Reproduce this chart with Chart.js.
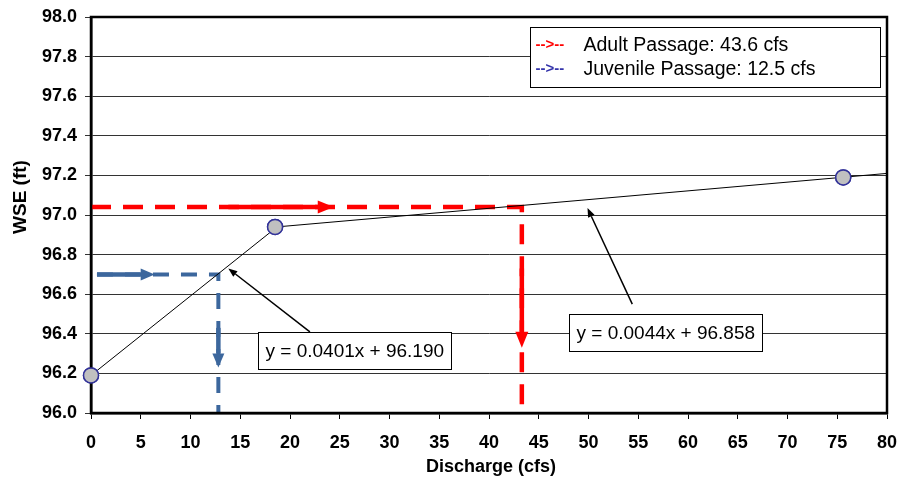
<!DOCTYPE html>
<html>
<head>
<meta charset="utf-8">
<script src="https://cdn.jsdelivr.net/npm/chart.js@4/dist/chart.umd.min.js"></script>
<style>
html,body{margin:0;padding:0;background:#fff;}
#wrap{width:900px;height:485px;position:relative;}
</style>
</head>
<body>
<div id="wrap"><canvas id="c" width="900" height="485"></canvas></div>
<script>
// ---- data ----
const obsQ = [0, 18.5, 75.6];
const obsWSE = [96.19, 96.94, 97.19];
const fit1Q = [0, 18.5];
const fit1WSE = [96.19, 96.932];
const fit2Q = [18.5, 80];
const fit2WSE = [96.939, 97.21];
const adultQ = [0, 43.3, 43.3];
const adultWSE = [97.04, 97.04, 96.0];
const juvQ = [0.6, 12.8, 12.8];
const juvWSE = [96.7, 96.7, 96.0];
// solid arrows along the passage lines [x1, y1, x2, y2] in data units
const adultArrows = [[13.8, 97.04, 24.4, 97.04], [43.3, 96.73, 43.3, 96.33]];
const juvArrows = [[0.6, 96.7, 6.4, 96.7], [12.8, 96.43, 12.8, 96.23]];
// equation callouts: text, box left/top (data), arrow from (data) to (data)
const eqTexts = ["y = 0.0401x + 96.190", "y = 0.0044x + 96.858"];
const eqBoxQ = [16.8, 48.0];
const eqBoxWSE = [96.41, 96.50];
const eqArrowFromQ = [22.0, 54.4];
const eqArrowFromWSE = [96.41, 96.55];
const eqArrowToQ = [13.8, 49.9];
const eqArrowToWSE = [96.73, 97.035];
const legendLabels = ["Adult Passage: 43.6 cfs", "Juvenile Passage: 12.5 cfs"];
const yTicks = [96.0, 96.2, 96.4, 96.6, 96.8, 97.0, 97.2, 97.4, 97.6, 97.8, 98.0];
const xTicks = [0, 5, 10, 15, 20, 25, 30, 35, 40, 45, 50, 55, 60, 65, 70, 75, 80];
const xTitle = 'Discharge (cfs)';
const yTitle = 'WSE (ft)';

const RED = '#ff0000';
const BLUE = '#3c679d';
const FONT = '"Liberation Sans", Arial, sans-serif';
const zip = (xs, ys) => xs.map((x, i) => ({x: x, y: ys[i]}));

function arrow(ctx, x1, y1, x2, y2, color, lw, hl, hw) {
  const a = Math.atan2(y2 - y1, x2 - x1);
  const bx = x2 - hl * Math.cos(a), by = y2 - hl * Math.sin(a);
  ctx.save();
  ctx.strokeStyle = color; ctx.fillStyle = color; ctx.lineWidth = lw; ctx.setLineDash([]);
  ctx.beginPath(); ctx.moveTo(x1, y1); ctx.lineTo(bx, by); ctx.stroke();
  ctx.beginPath();
  ctx.moveTo(x2, y2);
  ctx.lineTo(bx + hw / 2 * Math.sin(a), by - hw / 2 * Math.cos(a));
  ctx.lineTo(bx - hw / 2 * Math.sin(a), by + hw / 2 * Math.cos(a));
  ctx.closePath(); ctx.fill();
  ctx.restore();
}

const overlay = {
  id: 'overlay',
  afterDatasetsDraw(chart) {
    const ctx = chart.ctx, xs = chart.scales.x, ys = chart.scales.y, ca = chart.chartArea;
    // solid passage arrows
    adultArrows.forEach(a => arrow(ctx, xs.getPixelForValue(a[0]), ys.getPixelForValue(a[1]), xs.getPixelForValue(a[2]), ys.getPixelForValue(a[3]), RED, 4.5, 16, 13));
    juvArrows.forEach(a => arrow(ctx, xs.getPixelForValue(a[0]), ys.getPixelForValue(a[1]), xs.getPixelForValue(a[2]), ys.getPixelForValue(a[3]), BLUE, 4.5, 14, 12));
    // equation callouts
    ctx.save();
    ctx.font = '19px ' + FONT;
    eqTexts.forEach((t, i) => {
      arrow(ctx, xs.getPixelForValue(eqArrowFromQ[i]), ys.getPixelForValue(eqArrowFromWSE[i]), xs.getPixelForValue(eqArrowToQ[i]), ys.getPixelForValue(eqArrowToWSE[i]), '#000', 1.5, 9, 7);
      const bx = Math.round(xs.getPixelForValue(eqBoxQ[i])) + 0.5, by = Math.round(ys.getPixelForValue(eqBoxWSE[i])) + 0.5;
      const w = Math.round(ctx.measureText(t).width) + 14, h = 37;
      ctx.fillStyle = '#fff'; ctx.fillRect(bx, by, w, h);
      ctx.strokeStyle = '#000'; ctx.lineWidth = 1; ctx.strokeRect(bx, by, w, h);
      ctx.fillStyle = '#000'; ctx.textBaseline = 'middle'; ctx.textAlign = 'left';
      ctx.fillText(t, bx + 7, by + h / 2 + 1);
    });
    ctx.restore();
    // plot border
    ctx.save();
    ctx.strokeStyle = '#000'; ctx.lineWidth = 2.5; ctx.setLineDash([]);
    ctx.strokeRect(ca.left, ca.top, ca.right - ca.left, ca.bottom - ca.top);
    ctx.restore();
    // legend
    ctx.save();
    const lx = 530.5, ly = 27.5, lw = 350, lh = 60;
    ctx.fillStyle = '#fff'; ctx.fillRect(lx, ly, lw, lh);
    ctx.strokeStyle = '#000'; ctx.lineWidth = 1; ctx.strokeRect(lx, ly, lw, lh);
    const cols = [RED, '#3333aa'];
    legendLabels.forEach((t, i) => {
      const yy = ly + 17 + i * 24;
      ctx.textBaseline = 'middle'; ctx.textAlign = 'left';
      ctx.font = 'bold 15px ' + FONT;
      ctx.fillStyle = cols[i];
      ctx.fillText('-->--', lx + 5, yy);
      ctx.font = '19.5px ' + FONT;
      ctx.fillStyle = '#000';
      ctx.fillText(t, lx + 53, yy + 1);
    });
    ctx.restore();
    // axis titles
    ctx.save();
    ctx.fillStyle = '#000'; ctx.textAlign = 'center'; ctx.textBaseline = 'middle';
    ctx.font = 'bold 18px ' + FONT;
    ctx.fillText(xTitle, (ca.left + ca.right) / 2 + 2, 467);
    ctx.translate(21, 197);
    ctx.rotate(-Math.PI / 2);
    ctx.font = 'bold 19px ' + FONT;
    ctx.fillText(yTitle, 0, 0);
    ctx.restore();
  },
  afterDraw(chart) {
    // re-draw observation markers on top so they are not clipped by the plot edge
    const meta = chart.getDatasetMeta(0);
    const ctx = chart.ctx;
    ctx.save();
    meta.data.forEach(p => {
      ctx.beginPath();
      ctx.arc(p.x, p.y, 7.5, 0, Math.PI * 2);
      ctx.fillStyle = '#c0c0c0'; ctx.fill();
      ctx.lineWidth = 1.5; ctx.strokeStyle = '#333399'; ctx.stroke();
    });
    ctx.restore();
  }
};

new Chart(document.getElementById('c'), {
  type: 'scatter',
  data: {
    datasets: [
      {data: zip(obsQ, obsWSE), showLine: false, pointRadius: 7.5, pointHoverRadius: 7.5, clip: false,
       pointBackgroundColor: '#c0c0c0', pointBorderColor: '#333399', pointBorderWidth: 1.5, order: 0},
      {data: zip(fit1Q, fit1WSE), showLine: true, borderColor: '#000', borderWidth: 1, pointRadius: 0, order: 1},
      {data: zip(fit2Q, fit2WSE), showLine: true, borderColor: '#000', borderWidth: 1, pointRadius: 0, order: 1},
      {data: zip(adultQ, adultWSE), showLine: true, borderColor: RED, borderWidth: 4.5, borderDash: [20, 12],
       borderCapStyle: 'butt', pointRadius: 0, order: 2},
      {data: zip(juvQ, juvWSE), showLine: true, borderColor: BLUE, borderWidth: 4, borderDash: [16, 12],
       borderCapStyle: 'butt', pointRadius: 0, order: 2}
    ]
  },
  options: {
    responsive: false,
    animation: false,
    events: [],
    layout: {padding: {top: 17, right: 13, left: 0, bottom: 0}},
    plugins: {legend: {display: false}, tooltip: {enabled: false}},
    scales: {
      x: {
        type: 'linear', min: 0, max: 80,
        afterBuildTicks: s => { s.ticks = xTicks.map(v => ({value: v})); },
        afterFit: s => { s.height = 72; s.paddingLeft = 0; s.paddingRight = 0; },
        grid: {drawOnChartArea: false, drawTicks: true, tickLength: 6, color: '#000', lineWidth: 1},
        border: {display: true, color: '#000', width: 2.5},
        ticks: {color: '#000', padding: 13, maxRotation: 0, autoSkip: false,
                font: {family: FONT, weight: 'bold', size: 18}},
        title: {display: false}
      },
      y: {
        type: 'linear', min: 96, max: 98,
        afterBuildTicks: s => { s.ticks = yTicks.map(v => ({value: v})); },
        afterFit: s => { s.width = 91; s.paddingTop = 0; s.paddingBottom = 0; },
        grid: {drawOnChartArea: true, drawTicks: true, tickLength: 6, color: '#333', lineWidth: 1},
        border: {display: true, color: '#000', width: 2.5},
        ticks: {color: '#000', padding: 8, autoSkip: false, callback: v => Number(v).toFixed(1),
                font: {family: FONT, weight: 'bold', size: 18}},
        title: {display: false}
      }
    }
  },
  plugins: [overlay]
});
</script>
</body>
</html>
